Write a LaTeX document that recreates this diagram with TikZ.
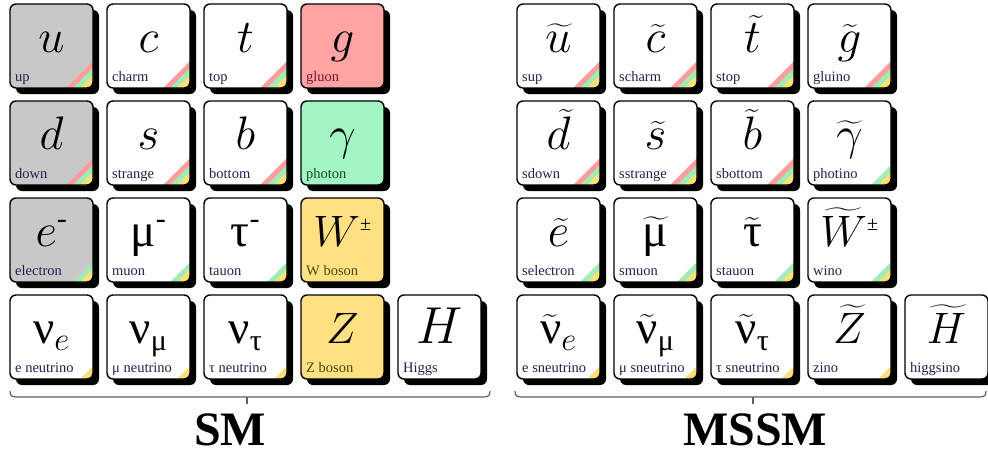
\RequirePackage{fix-cm}
\documentclass[tikz,border=0pt]{standalone}
\usepackage{amsmath}
\usepackage{fontspec}
\setmainfont{Liberation Serif}
\newfontfamily\grk{Liberation Serif}
\definecolor{qgrey}{HTML}{C8C8C8}
\definecolor{gpink}{HTML}{FFA3A3}
\definecolor{pgreen}{HTML}{A3F5C3}
\definecolor{wyellow}{HTML}{FFE184}
\definecolor{sred}{HTML}{FF9C9C}
\definecolor{sgreen}{HTML}{9EEDB4}
\definecolor{syellow}{HTML}{FFDF7A}
\definecolor{lblnavy}{HTML}{222250}
\definecolor{lblred}{HTML}{7A1A30}
\definecolor{lblgreen}{HTML}{1A4A30}
\definecolor{lblolive}{HTML}{4A4A10}
\definecolor{bracegrey}{HTML}{606060}
\newcommand\gk[1]{\hbox{\grk #1}}
\newcommand\gsub[1]{\hbox{\fontsize{30}{30}\selectfont\grk #1}}
\newcommand\dsup{\hbox{\fontsize{30}{30}\selectfont -}}
\newcommand\pmsup{\hbox{\fontsize{20}{20}\selectfont ±}}
\newcommand\symsize{\fontsize{47}{47}\selectfont}
\newcommand\capsize{\fontsize{44}{44}\selectfont}
% #1 name, #2 x, #3 y, #4 fill, #5 stripes, #6 label colour, #7 symbol, #8 label
\newcommand\tile[8]{%
  \fill[black, rounded corners=6pt] ({#2+6},{#3+6}) rectangle ({#2+89},{#3+90});
  \begin{scope}
    \clip[rounded corners=6pt] (#2,#3) rectangle ({#2+83},{#3+84});
    \fill[#4] (#2,#3) rectangle ({#2+83},{#3+84});
    \ifnum#5>2 \fill[sred] ({#2+83-27},{#3+84}) -- ({#2+83},{#3+84-27}) -- ({#2+83},{#3+84}) -- cycle;\fi
    \ifnum#5>1 \fill[sgreen] ({#2+83-20},{#3+84}) -- ({#2+83},{#3+84-20}) -- ({#2+83},{#3+84}) -- cycle;\fi
    \ifnum#5>0 \fill[syellow] ({#2+83-13},{#3+84}) -- ({#2+83},{#3+84-13}) -- ({#2+83},{#3+84}) -- cycle;\fi
  \end{scope}
  \draw[line width=1.4pt, rounded corners=6pt] (#2,#3) rectangle ({#2+83},{#3+84});
  \node[symb] (#1) at ({#2+41.5},{#3+48}) {#7};
  \node[lbl, text=#6] (#1-l) at ({#2+5},{#3+77}) {#8};
}
\begin{document}
\begin{tikzpicture}[x=1pt, y=-1pt,
  symb/.style={anchor=base, inner sep=0pt, text depth=4pt, font=\symsize},
  lbl/.style={anchor=base west, inner sep=0pt, font=\fontsize{14.5}{15}\selectfont},
  bracel/.style={draw=bracegrey, line width=1.2pt},
  title/.style={anchor=base, inner sep=0pt, text depth=0pt, font=\fontsize{48}{48}\selectfont\bfseries}]
\useasboundingbox (0,0) rectangle (988,453);
% ---------- SM ----------
\tile{u}{10}{4}{qgrey}{3}{lblnavy}{$u$}{up}
\tile{c}{107}{4}{white}{3}{lblnavy}{$c$}{charm}
\tile{t}{204}{4}{white}{3}{lblnavy}{$t$}{top}
\tile{g}{301}{4}{gpink}{0}{lblred}{$g$}{gluon}
\tile{d}{10}{101}{qgrey}{3}{lblnavy}{$d$}{down}
\tile{s}{107}{101}{white}{3}{lblnavy}{$s$}{strange}
\tile{b}{204}{101}{white}{3}{lblnavy}{$b$}{bottom}
\tile{ga}{301}{101}{pgreen}{0}{lblgreen}{$\gamma$}{photon}
\tile{e}{10}{198}{qgrey}{2}{lblnavy}{$e^{\dsup}$}{electron}
\tile{mu}{107}{198}{white}{2}{lblnavy}{$\gk{μ}^{\dsup}$}{muon}
\tile{ta}{204}{198}{white}{2}{lblnavy}{$\gk{τ}^{\dsup}$}{tauon}
\tile{W}{301}{198}{wyellow}{0}{lblolive}{\capsize$W^{\pmsup}$}{W boson}
\tile{ne}{10}{295}{white}{1}{lblnavy}{$\gk{ν}_{e}$}{e neutrino}
\tile{nm}{107}{295}{white}{1}{lblnavy}{$\gk{ν}_{\gsub{μ}}$}{μ neutrino}
\tile{nt}{204}{295}{white}{1}{lblnavy}{$\gk{ν}_{\gsub{τ}}$}{τ neutrino}
\tile{Z}{301}{295}{wyellow}{0}{lblolive}{\capsize$Z$}{Z boson}
\tile{H}{398}{295}{white}{0}{lblnavy}{\fontsize{52}{52}\selectfont$H$}{Higgs}
% ---------- MSSM ----------
\tile{su}{517}{4}{white}{3}{lblnavy}{$\widetilde{u}$}{sup}
\tile{sc}{614}{4}{white}{3}{lblnavy}{$\widetilde{c}$}{scharm}
\tile{st}{711}{4}{white}{3}{lblnavy}{$\widetilde{t}$}{stop}
\tile{sg}{808}{4}{white}{3}{lblnavy}{$\widetilde{g}$}{gluino}
\tile{sd}{517}{101}{white}{3}{lblnavy}{$\widetilde{d}$}{sdown}
\tile{ss}{614}{101}{white}{3}{lblnavy}{$\widetilde{s}$}{sstrange}
\tile{sb}{711}{101}{white}{3}{lblnavy}{$\widetilde{b}$}{sbottom}
\tile{sga}{808}{101}{white}{2}{lblnavy}{$\widetilde{\gamma}$}{photino}
\tile{se}{517}{198}{white}{2}{lblnavy}{$\widetilde{e}$}{selectron}
\tile{smu}{614}{198}{white}{2}{lblnavy}{$\widetilde{\gk{μ}}$}{smuon}
\tile{sta}{711}{198}{white}{2}{lblnavy}{$\widetilde{\gk{τ}}$}{stauon}
\tile{sW}{808}{198}{white}{2}{lblnavy}{\capsize$\widetilde{W}^{\pmsup}$}{wino}
\tile{sne}{517}{295}{white}{1}{lblnavy}{$\widetilde{\gk{ν}}_{e}$}{e sneutrino}
\tile{snm}{614}{295}{white}{1}{lblnavy}{$\widetilde{\gk{ν}}_{\gsub{μ}}$}{μ sneutrino}
\tile{snt}{711}{295}{white}{1}{lblnavy}{$\widetilde{\gk{ν}}_{\gsub{τ}}$}{τ sneutrino}
\tile{sZ}{808}{295}{white}{1}{lblnavy}{\capsize$\widetilde{Z}$}{zino}
\tile{sH}{905}{295}{white}{0}{lblnavy}{\capsize$\widetilde{H}$}{higgsino}
% ---------- braces ----------
\coordinate (smL) at (10,391);
\coordinate (smR) at (490,391);
\coordinate (smT) at (247,397);
\coordinate (smB) at (247,404);
\draw[bracel] (smL) .. controls (10,396) and (12,397) .. (17,397) -- (483,397) .. controls (488,397) and (490,396) .. (smR);
\draw[bracel] (smT) -- (smB);
\coordinate (msL) at (515,391);
\coordinate (msR) at (986,391);
\coordinate (msT) at (753,397);
\coordinate (msB) at (753,404);
\draw[bracel] (msL) .. controls (515,396) and (517,397) .. (522,397) -- (979,397) .. controls (984,397) and (986,396) .. (msR);
\draw[bracel] (msT) -- (msB);
\node[title] (SM) at (230,445) {SM};
\node[title] (MSSM) at (755,445) {MSSM};
\end{tikzpicture}
\end{document}
